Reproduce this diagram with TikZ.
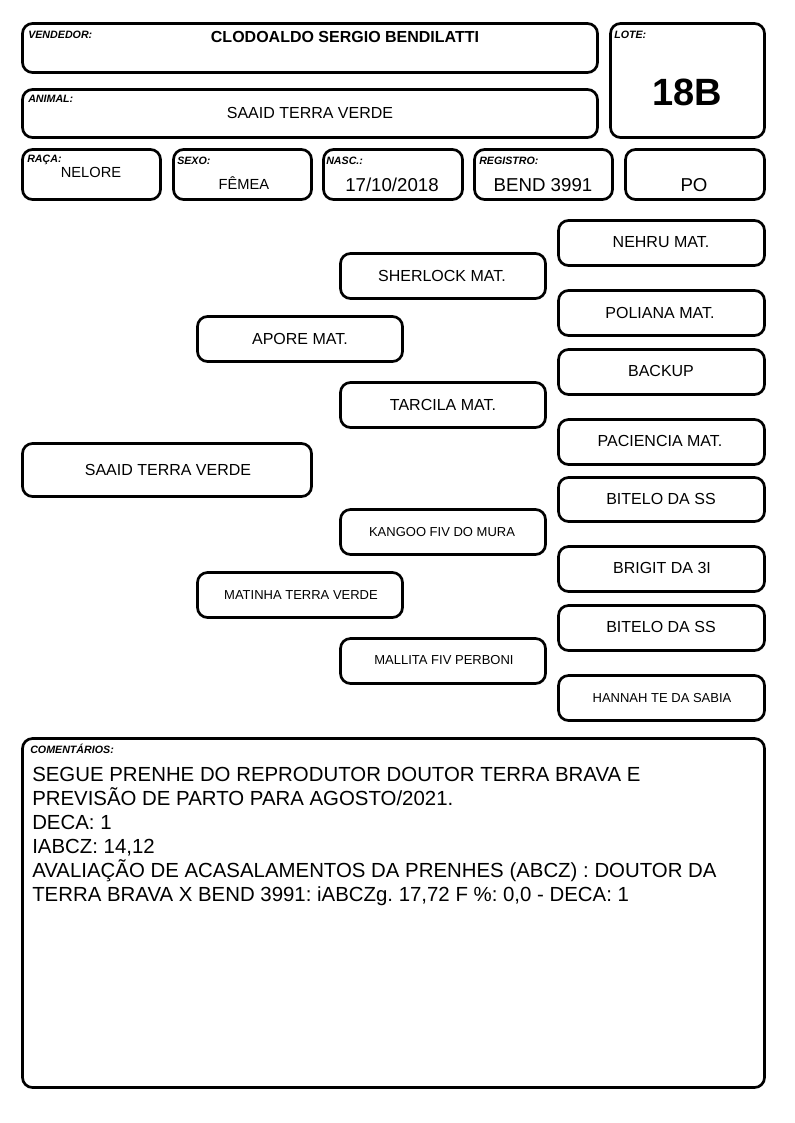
\documentclass[tikz,border=0pt]{standalone}
\usepackage{fontspec}
\setmainfont{Liberation Sans}
\frenchspacing
\begin{document}
\begin{tikzpicture}[x=0.75pt, y=-0.75pt,
    box/.style={line width=2pt, rounded corners=7.5pt},
    tag/.style={anchor=base west, inner sep=0pt, font=\bfseries\itshape\fontsize{8}{9}\selectfont},
    val/.style={anchor=base, inner sep=0pt, font=\fontsize{14}{16}\selectfont},
    anim/.style={inner sep=0pt, font=\fontsize{12}{14}\selectfont},
    animsmall/.style={inner sep=0pt, font=\fontsize{9.75}{11}\selectfont}]
    \useasboundingbox (0,0) rectangle (794,1123);

    % cabecalho
    \draw[box] (22.5,23.5) rectangle (597.5,72.5);
    \node[tag] (vendtag) at (28,39) {VENDEDOR:};
    \node[val, font=\bfseries\fontsize{12}{14}\selectfont] (vend) at (345,43) {CLODOALDO SERGIO BENDILATTI};
    \draw[box] (610.5,23.5) rectangle (764.5,137.5);
    \node[tag] (lotetag) at (614,39) {LOTE:};
    \node[val, font=\bfseries\fontsize{28.5}{30}\selectfont] (lote) at (687.5,106) {18B};
    \draw[box] (22.5,89.5) rectangle (597.5,137.5);
    \node[tag] (animaltag) at (28,103) {ANIMAL:};
    \node[val, font=\fontsize{12}{14}\selectfont] (animal) at (310,119) {SAAID TERRA VERDE};

    \draw[box] (22.5,149.5) rectangle (160.5,199.5);
    \node[tag] (racatag) at (27,163) {RAÇA:};
    \node[val, font=\fontsize{11}{13}\selectfont] (raca) at (91,178) {NELORE};
    \draw[box] (173.5,149.5) rectangle (311.5,199.5);
    \node[tag] (sexotag) at (177,165) {SEXO:};
    \node[val, font=\fontsize{11}{13}\selectfont] (sexo) at (244,190) {FÊMEA};
    \draw[box] (323.5,149.5) rectangle (462.5,199.5);
    \node[tag] (nasctag) at (326,165) {NASC.:};
    \node[val] (nasc) at (392,192) {17/10/2018};
    \draw[box] (474.5,149.5) rectangle (612.5,199.5);
    \node[tag] (regtag) at (479,165) {REGISTRO:};
    \node[val] (reg) at (543,192) {BEND 3991};
    \draw[box] (625.5,149.5) rectangle (764.5,199.5);
    \node[val] (po) at (694,192) {PO};

    % genealogia
    \draw[box] (22.5,443.5) rectangle (311.5,496.5);
    \node[anim] (saaid) at (168,470) {SAAID TERRA VERDE};
    \draw[box] (197.5,316.5) rectangle (402.5,361.5);
    \node[anim] (pai) at (300,339) {APORE MAT.};
    \draw[box] (197.5,572.5) rectangle (402.5,617.5);
    \node[animsmall] (mae) at (301,595) {MATINHA TERRA VERDE};
    \draw[box] (340.5,253.5) rectangle (545.5,298.5);
    \node[anim] (avopp) at (442,276) {SHERLOCK MAT.};
    \draw[box] (340.5,382.5) rectangle (545.5,427.5);
    \node[anim] (avopm) at (443,405) {TARCILA MAT.};
    \draw[box] (340.5,509.5) rectangle (545.5,554.5);
    \node[animsmall] (avomp) at (442,532) {KANGOO FIV DO MURA};
    \draw[box] (340.5,638.5) rectangle (545.5,683.5);
    \node[animsmall] (avomm) at (444,660) {MALLITA FIV PERBONI};

    \draw[box] (558.5,220.5) rectangle (764.5,265.5);
    \node[anim] (bisa1) at (661,242) {NEHRU MAT.};
    \draw[box] (558.5,290.5) rectangle (764.5,335.5);
    \node[anim] (bisa2) at (660,313) {POLIANA MAT.};
    \draw[box] (558.5,349.5) rectangle (764.5,394.5);
    \node[anim] (bisa3) at (661,371) {BACKUP};
    \draw[box] (558.5,419.5) rectangle (764.5,464.5);
    \node[anim] (bisa4) at (660,441) {PACIENCIA MAT.};
    \draw[box] (558.5,477.5) rectangle (764.5,521.5);
    \node[anim] (bisa5) at (661,499) {BITELO DA SS};
    \draw[box] (558.5,546.5) rectangle (764.5,591.5);
    \node[anim] (bisa6) at (662,568) {BRIGIT DA 3I};
    \draw[box] (558.5,605.5) rectangle (764.5,650.5);
    \node[anim] (bisa7) at (661,627) {BITELO DA SS};
    \draw[box] (558.5,675.5) rectangle (764.5,720.5);
    \node[animsmall] (bisa8) at (662,698) {HANNAH TE DA SABIA};

    % comentarios
    \draw[box] (22.5,738.5) rectangle (764.5,1087.5);
    \node[tag] (comtag) at (30,753) {COMENTÁRIOS:};
    \node[anchor=north west, inner sep=0pt, align=left,
        font=\fontsize{15.3}{18}\selectfont] (coment) at (32,767)
        {SEGUE PRENHE DO REPRODUTOR DOUTOR TERRA BRAVA E\\
         PREVISÃO DE PARTO PARA AGOSTO/2021.\\
         DECA: 1\\
         IABCZ: 14,12\\
         AVALIAÇÃO DE ACASALAMENTOS DA PRENHES (ABCZ) : DOUTOR DA\\
         TERRA BRAVA X BEND 3991: iABCZg. 17,72 F \%: 0,0 - DECA: 1};
\end{tikzpicture}
\end{document}
